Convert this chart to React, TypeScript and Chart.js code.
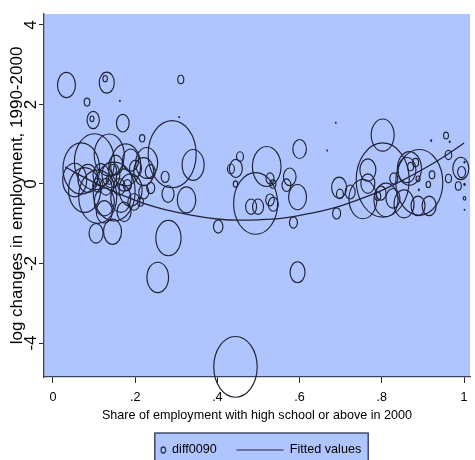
import { useEffect, useRef } from "react";
import { Chart, registerables, BubbleController, PointElement } from "chart.js";

// ---------- data ----------
const xTickValues = [0, 0.2, 0.4, 0.6, 0.8, 1];
const xTickLabels = ["0", ".2", ".4", ".6", ".8", "1"];
const yTickValues = [-4, -2, 0, 2, 4];
const yTickLabels = ["-4", "-2", "0", "2", "4"];

// share of employment with high school or above in 2000
const shareHS = [
  0.033, 0.131, 0.127, 0.083, 0.163, 0.098, 0.095, 0.17, 0.217, 0.311, 0.307,
  0.29, 0.341, 0.228, 0.273, 0.28, 0.325, 0.402, 0.281, 0.255, 0.595, 0.444,
  0.105, 0.145, 0.455, 0.445, 0.433, 0.444, 0.52, 0.493, 0.482, 0.499, 0.528,
  0.535, 0.528, 0.536, 0.576, 0.568, 0.595, 0.6, 0.585, 0.688, 0.667, 0.69,
  0.696, 0.698, 0.723, 0.766, 0.766, 0.802, 0.802, 0.754, 0.798, 0.81, 0.829,
  0.827, 0.854, 0.888, 0.915, 0.891, 0.867, 0.861, 0.87, 0.882, 0.888, 0.89,
  0.922, 0.913, 0.962, 0.962, 0.956, 0.92, 0.965, 0.992, 0.994, 0.986, 1.001,
  1.001, 1.001, 1.001, 0.79, 0.069, 0.101, 0.137, 0.177, 0.109, 0.149, 0.077,
  0.189, 0.221, 0.141, 0.165, 0.197, 0.213, 0.125, 0.117, 0.085, 0.173, 0.153,
  0.201, 0.237, 0.129, 0.161, 0.145, 0.137, 0.181, 0.109, 0.189, 0.053, 0.125,
  0.173, 0.221, 0.238,
];
// log changes in employment, 1990-2000
const diff0090 = [
  2.49, 2.55, 2.65, 2.06, 2.09, 1.61, 1.64, 1.53, 1.15, 2.63, 1.68, 0.75, 0.48,
  0.53, 0.18, -0.25, -0.4, -1.07, -1.36, -2.35, -2.22, -4.6, -1.24, -1.2, 0.69,
  0.39, 0.38, 0.0, 0.44, -0.49, -0.57, -0.57, 0.14, 0.0, -0.4, -0.51, 0.18,
  -0.03, -0.33, 0.88, -0.97, 1.54, 0.84, -0.74, -0.09, -0.25, -0.2, 0.35, 0.01,
  1.23, 0.1, -0.38, -0.23, -0.4, 0.14, -0.36, -0.5, -0.55, -0.55, 0.04, 0.39,
  0.35, 0.44, 0.54, 0.13, -0.15, 0.23, -0.01, 0.14, 0.73, 1.22, 1.09, 1.06,
  0.39, 0.3, -0.05, -0.01, -0.36, -0.65, 0.55, -0.31, 0.39, 0.56, 0.73, 0.48,
  -0.32, -0.19, -0.15, -0.15, 0.31, 0.23, -0.36, -0.45, -0.45, -0.45, 0.23,
  0.14, 0.1, 0.48, 0.39, 0.31, -0.07, -0.07, 0.35, 0.1, -0.03, -0.03, 0.6, 0.1,
  -0.7, -0.7, -0.2, -0.1,
];
// employment weight (bubble size)
const empWeight = [
  81, 56, 5, 8, 0.6, 38, 4, 40, 7, 9, 0.6, 576, 121, 121, 16, 36, 86, 22, 159,
  117, 56, 471, 49, 81, 12, 42, 12, 5, 204, 484, 30, 30, 16, 9, 18, 25, 40, 20,
  81, 46, 16, 0.6, 0.6, 16, 56, 12, 25, 64, 49, 132, 702, 196, 25, 144, 16, 49,
  100, 49, 49, 552, 144, 81, 9, 9, 4, 1, 8, 5, 9, 11, 6, 1, 1, 64, 16, 9, 1.4,
  1.7, 0.6, 1, 9, 335, 400, 225, 225, 361, 441, 256, 132, 100, 81, 100, 36, 9,
  100, 64, 100, 64, 49, 36, 25, 36, 36, 16, 9, 16, 25, 64, 144, 64, 49, 25, 16,
];

// fitted values (quadratic fit)
const fitX = [
  0.03, 0.05, 0.1, 0.15, 0.2, 0.25, 0.3, 0.35, 0.4, 0.45, 0.5, 0.55, 0.6, 0.65,
  0.7, 0.75, 0.8, 0.85, 0.9, 0.95, 1.0,
];
const fitY = [
  0.43, 0.31, 0.04, -0.2, -0.41, -0.58, -0.71, -0.81, -0.88, -0.91, -0.9,
  -0.87, -0.79, -0.69, -0.55, -0.37, -0.16, 0.09, 0.37, 0.68, 1.03,
];

// ---------- styling ----------
const PLOT_BG = "#b0c4fe";
const MARK = "#1f2336";
const AXIS = "#3a4566";
const TICK = "#2a2a2a";
const TEXT = "#000000";
const FONT = "'Liberation Sans', Arial, sans-serif";
const H_SIZE = 12.6;
const V_SIZE = 17;
const ASPECT = 1.4; // marker height / width
const LEG_BOX = 52;

// ---------- elliptical bubble (Stata markers are stretched vertically) ----------
class EllipsePoint extends PointElement {
  static id = "ellipsePoint";
  static defaults = { ...(PointElement as any).defaults };
  static defaultRoutes = { ...(PointElement as any).defaultRoutes };
  draw(ctx: CanvasRenderingContext2D) {
    const o: any = (this as any).options;
    const self: any = this;
    if (self.skip || !o || o.radius < 0.1) return;
    const rx = o.radius;
    ctx.save();
    ctx.beginPath();
    if (rx < 1.3) {
      ctx.fillStyle = o.borderColor;
      ctx.ellipse(self.x, self.y, Math.max(rx, 0.9), Math.max(rx * ASPECT, 1.1), 0, 0, Math.PI * 2);
      ctx.fill();
    } else {
      ctx.strokeStyle = o.borderColor;
      ctx.lineWidth = o.borderWidth;
      ctx.ellipse(self.x, self.y, rx, rx * ASPECT, 0, 0, Math.PI * 2);
      ctx.stroke();
    }
    ctx.restore();
  }
}

class EllipseBubbleController extends BubbleController {
  static id = "ellipseBubble";
  static defaults = {
    ...(BubbleController as any).defaults,
    dataElementType: "ellipsePoint",
  };
  static overrides = (BubbleController as any).overrides;
}

Chart.register(...registerables, EllipsePoint as any, EllipseBubbleController as any);

function legendMarkerImage(): HTMLCanvasElement {
  const w = LEG_BOX + 10;
  const c = document.createElement("canvas");
  c.width = w;
  c.height = 14;
  const g = c.getContext("2d")!;
  g.strokeStyle = MARK;
  g.lineWidth = 1.1;
  g.beginPath();
  g.ellipse(w / 2 + LEG_BOX / 2 - 2.5, 7, 2.3, 3.1, 0, 0, Math.PI * 2);
  g.stroke();
  return c;
}

function legendLineImage(): HTMLCanvasElement {
  const w = LEG_BOX + 10;
  const c = document.createElement("canvas");
  c.width = w;
  c.height = 14;
  const g = c.getContext("2d")!;
  g.strokeStyle = MARK;
  g.lineWidth = 1.2;
  g.beginPath();
  g.moveTo(w / 2 - LEG_BOX / 2 + 5, 7);
  g.lineTo(w / 2 + LEG_BOX / 2, 7);
  g.stroke();
  return c;
}

const backdrop = {
  id: "backdrop",
  beforeDraw(chart: any) {
    const { ctx, chartArea: a, legend } = chart;
    ctx.save();
    ctx.fillStyle = PLOT_BG;
    ctx.fillRect(a.left, a.top, a.right - a.left, a.bottom - a.top);
    const hb = legend && legend.legendHitBoxes;
    if (hb && hb.length === 2) {
      const left = hb[0].left + LEG_BOX - 2.5 - 8.5;
      const right = hb[1].left + hb[1].width + 7;
      const top = hb[0].top + hb[0].height / 2 - 17;
      const bottom = chart.height + 5;
      ctx.fillStyle = PLOT_BG;
      ctx.fillRect(left, top, right - left, bottom - top);
      ctx.strokeStyle = "#1e2548";
      ctx.lineWidth = 1.2;
      ctx.strokeRect(left, top, right - left, bottom - top);
    }
    ctx.restore();
  },
};

export default function App() {
  const ref = useRef<HTMLCanvasElement | null>(null);

  useEffect(() => {
    if (!ref.current) return;
    const markerImg = legendMarkerImage();
    const lineImg = legendLineImage();

    const chart = new Chart(ref.current, {
      type: "bubble",
      data: {
        datasets: [
          {
            type: "ellipseBubble",
            label: "diff0090",
            data: shareHS.map((x, i) => ({
              x,
              y: diff0090[i],
              r: Math.sqrt(empWeight[i]),
            })),
            borderColor: MARK,
            backgroundColor: "rgba(0,0,0,0)",
            borderWidth: 1.15,
            radius: 0,
            clip: false,
            order: 2,
          } as any,
          {
            type: "line",
            label: "Fitted values",
            data: fitX.map((x, i) => ({ x, y: fitY[i] })),
            borderColor: MARK,
            borderWidth: 1.3,
            pointRadius: 0,
            fill: false,
            cubicInterpolationMode: "monotone",
            order: 1,
          } as any,
        ],
      },
      options: {
        animation: false,
        responsive: false,
        devicePixelRatio: 1,
        events: [],
        layout: {
          autoPadding: false,
          padding: { top: 14, left: 0, right: 0, bottom: 3.7 },
        },
        scales: {
          x: {
            type: "linear",
            position: "bottom",
            min: (44 - 53) / 416,
            max: (475 - 53) / 416,
            afterBuildTicks: (s: any) => {
              s.ticks = xTickValues.map((v) => ({ value: v }));
            },
            afterFit: (s: any) => {
              s.height = 51.9;
            },
            ticks: {
              autoSkip: false,
              maxRotation: 0,
              minRotation: 0,
              padding: 7.4,
              color: TEXT,
              font: { family: FONT, size: H_SIZE },
              callback: (v: any) => {
                const i = xTickValues.indexOf(Number(v));
                return i >= 0 ? xTickLabels[i] : "";
              },
            },
            grid: {
              display: true,
              drawOnChartArea: false,
              drawTicks: true,
              tickLength: 6,
              color: TICK,
              lineWidth: 1,
            },
            border: { display: true, color: AXIS, width: 1.3 },
            title: {
              display: true,
              text: "Share of employment with high school or above in 2000",
              color: TEXT,
              font: { family: FONT, size: H_SIZE },
              padding: { top: 0, bottom: 6.3 },
            },
          },
          y: {
            type: "linear",
            position: "left",
            min: (184 - 377) / 39.75,
            max: (184 - 14) / 39.75,
            afterBuildTicks: (s: any) => {
              s.ticks = yTickValues.map((v) => ({ value: v }));
            },
            afterFit: (s: any) => {
              s.width = 44;
            },
            ticks: {
              autoSkip: false,
              minRotation: 90,
              maxRotation: 90,
              crossAlign: "center",
              padding: 0,
              color: TEXT,
              font: { family: FONT, size: V_SIZE },
              callback: (v: any) => {
                const i = yTickValues.indexOf(Number(v));
                return i >= 0 ? yTickLabels[i] : "";
              },
            },
            grid: {
              display: true,
              drawOnChartArea: false,
              drawTicks: true,
              tickLength: 5,
              color: TICK,
              lineWidth: 1,
            },
            border: { display: true, color: AXIS, width: 1.3 },
            title: {
              display: true,
              text: "log changes in employment, 1990-2000",
              color: TEXT,
              font: { family: FONT, size: V_SIZE },
              padding: { top: 7.5, bottom: 0 },
            },
          },
        },
        plugins: {
          tooltip: { enabled: false },
          title: { display: false },
          legend: {
            display: true,
            position: "bottom",
            align: "center",
            labels: {
              usePointStyle: true,
              pointStyleWidth: LEG_BOX,
              padding: 14.8,
              color: TEXT,
              font: { family: FONT, size: H_SIZE },
              generateLabels: () => [
                {
                  text: "diff0090",
                  pointStyle: markerImg,
                  fillStyle: "rgba(0,0,0,0)",
                  strokeStyle: "rgba(0,0,0,0)",
                  lineWidth: 0,
                  hidden: false,
                  datasetIndex: 0,
                  fontColor: TEXT,
                } as any,
                {
                  text: "Fitted values",
                  pointStyle: lineImg,
                  fillStyle: "rgba(0,0,0,0)",
                  strokeStyle: "rgba(0,0,0,0)",
                  lineWidth: 0,
                  hidden: false,
                  datasetIndex: 1,
                  fontColor: TEXT,
                } as any,
              ],
            },
          },
        },
      } as any,
      plugins: [backdrop],
    });

    return () => chart.destroy();
  }, []);

  return (
    <div
      style={{
        position: "fixed",
        left: 0,
        top: 0,
        width: 475,
        height: 460,
        overflow: "hidden",
        background: "#ffffff",
      }}
    >
      <canvas ref={ref} width={475} height={470} style={{ display: "block" }} />
    </div>
  );
}
